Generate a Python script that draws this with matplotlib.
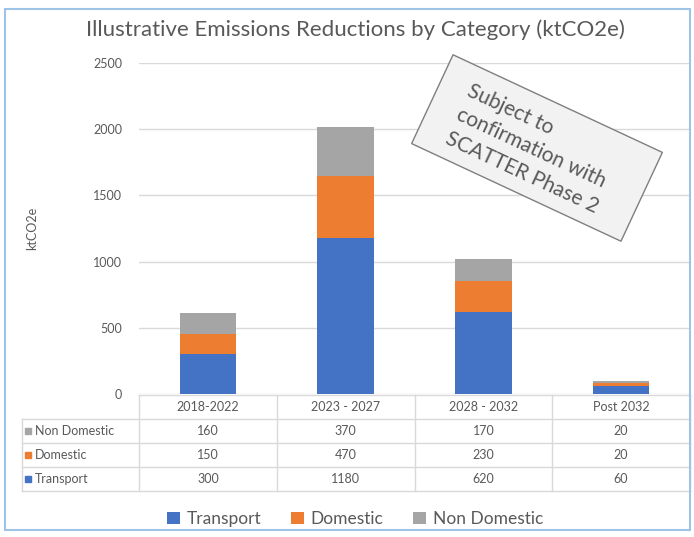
import matplotlib
matplotlib.use('Agg')
import matplotlib.pyplot as plt
import matplotlib.patches as mpatches
from matplotlib.transforms import Affine2D
import numpy as np

plt.rcParams['font.family'] = ['Lato', 'DejaVu Sans']

periods = ['2018-2022', '2023 - 2027', '2028 - 2032', 'Post 2032']
transport = [300, 1180, 620, 60]
domestic = [150, 470, 230, 20]
non_domestic = [160, 370, 170, 20]
series = ['Transport', 'Domestic', 'Non Domestic']
colors = ['#4472C4', '#ED7D31', '#A5A5A5']
yticks = [0, 500, 1000, 1500, 2000, 2500]

W, H = 694, 537
txt = '#595959'
grid = '#D9D9D9'


def px(x0, y0, x1, y1):
    return [x0 / W, 1 - y1 / H, (x1 - x0) / W, (y1 - y0) / H]


fig = plt.figure(figsize=(W / 100, H / 100), dpi=100)
fig.patch.set_facecolor('white')

# main chart
ax = fig.add_axes(px(139, 63, 690, 394))
x = np.arange(len(periods))
bw = 0.41
b1 = ax.bar(x, transport, bw, color=colors[0], zorder=2)
b2 = ax.bar(x, domestic, bw, bottom=transport, color=colors[1], zorder=2)
b3 = ax.bar(x, non_domestic, bw, bottom=np.add(transport, domestic), color=colors[2], zorder=2)
ax.set_xlim(-0.5, len(periods) - 0.5)
ax.set_ylim(0, 2500)
ax.set_yticks(yticks)
ax.set_xticks([])
ax.grid(axis='y', color=grid, lw=1, zorder=0)
for s in ax.spines.values():
    s.set_visible(False)
ax.tick_params(axis='y', length=0, labelsize=9, labelcolor=txt, pad=12)
ax.set_ylabel('ktCO2e', fontsize=9, color=txt)
ax.yaxis.set_label_coords((38 - 139) / 551, 0.5)

fig.text(355 / W, 1 - 30 / H, 'Illustrative Emissions Reductions by Category (ktCO2e)',
         ha='center', va='center', fontsize=16, color=txt)

# data table under the bars
xl = -0.5 - 117 / 137.75
tb = fig.add_axes(px(22, 395, 690, 491))
tb.set_xlim(xl, len(periods) - 0.5)
tb.set_ylim(4, 0)
tb.axis('off')
tb.plot([-0.5, 3.5], [0, 0], color=grid, lw=1, clip_on=False)
for r in range(1, 5):
    tb.plot([xl, 3.5], [r, r], color=grid, lw=1, clip_on=False)
for c in np.arange(-0.5, 4, 1):
    tb.plot([c, c], [0, 4], color=grid, lw=1, clip_on=False)
tb.plot([xl, xl], [1, 4], color=grid, lw=1, clip_on=False)
for i, p in enumerate(periods):
    tb.text(i, 0.5, p, ha='center', va='center', fontsize=9, color=txt)
rows = [('Non Domestic', non_domestic, colors[2]),
        ('Domestic', domestic, colors[1]),
        ('Transport', transport, colors[0])]
for r, (name, vals, col) in enumerate(rows, start=1):
    tb.plot([xl + 0.045], [r + 0.5], marker='s', ms=4.5, color=col, clip_on=False)
    tb.text(xl + 0.095, r + 0.5, name, ha='left', va='center', fontsize=9, color=txt)
    for i, v in enumerate(vals):
        tb.text(i, r + 0.5, str(v), ha='center', va='center', fontsize=9, color=txt)

# legend
fig.legend([b1, b2, b3], series, loc='center', bbox_to_anchor=(355 / W, 1 - 519 / H),
           ncol=3, frameon=False, fontsize=12.5, handlelength=0.75, handleheight=0.75,
           handletextpad=0.4, columnspacing=1.7, labelcolor=txt)

# rotated note box
rot = Affine2D().rotate_deg(-25).translate(537 / 100, (H - 148) / 100) + fig.dpi_scale_trans
box = mpatches.Rectangle((-1.155, -0.49), 2.31, 0.98, fc='#F2F2F2', ec='#7F7F7F', lw=1,
                         transform=rot)
fig.add_artist(box)
fig.text(533 / W, 1 - 149 / H, 'Subject to\nconfirmation with\nSCATTER Phase 2',
         rotation=-25, rotation_mode='anchor', ha='center', va='center', ma='left',
         fontsize=15, color=txt, linespacing=1.4)

# outer frame
fig.add_artist(mpatches.Rectangle((5 / W, 1 - 530 / H), 685 / W, 521 / H,
                                  transform=fig.transFigure, fill=False,
                                  ec='#9DC3E6', lw=1.5))

fig.savefig('out.png', dpi=100)
